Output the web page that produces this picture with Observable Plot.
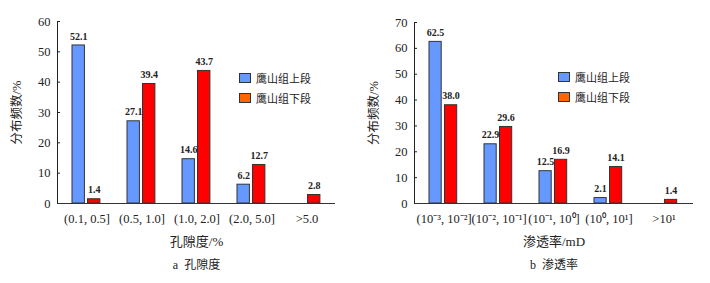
<!DOCTYPE html>
<html><head><meta charset="utf-8">
<script src="https://cdn.jsdelivr.net/npm/d3@7"></script>
<script src="https://cdn.jsdelivr.net/npm/@observablehq/plot@0.6"></script>
<style>
body{margin:0;background:#fff;}
#wrap{position:relative;width:710px;height:283px;display:flex;}
.leg{position:absolute;font:11px "Noto Sans CJK SC",sans-serif;color:#222;display:flex;align-items:center;}
.sw{width:10px;height:8px;border:1px solid #333;margin-right:5px;}
</style>
</head><body>
<div id="wrap"></div>
<script>
const series = ["鹰山组上段", "鹰山组下段"];
const seriesColors = ["#6699FF", "#FF0000"];
const legendColors = ["#6699FF", "#FF6600"];

const porosityCats = ["(0.1, 0.5]", "(0.5, 1.0]", "(1.0, 2.0]", "(2.0, 5.0]", ">5.0"];
const porosityUpper = [52.1, 27.1, 14.6, 6.2, null];
const porosityLower = [1.4, 39.4, 43.7, 12.7, 2.8];
const porosityTicks = [0, 10, 20, 30, 40, 50, 60];

const permCats = ["(10⁻³, 10⁻²]", "(10⁻², 10⁻¹]", "(10⁻¹, 10⁰]", "(10⁰, 10¹]", ">10¹"];
const permUpper = [62.5, 22.9, 12.5, 2.1, null];
const permLower = [38.0, 29.6, 16.9, 14.1, 1.4];
const permTicks = [0, 10, 20, 30, 40, 50, 60, 70];

const yTitle = "分布频数/%";

function makeChart(cats, upper, lower, ticks, xTitle, caption, mL, mR, mT) {
  const W = 355, H = 283, mB = 80;
  const bw = (W - mL - mR) / cats.length;
  const rowsU = cats.map((c, i) => ({cat: c, v: upper[i]})).filter(d => d.v != null);
  const rowsL = cats.map((c, i) => ({cat: c, v: lower[i]})).filter(d => d.v != null);
  const bL = 13, bR = 26, rL = 28.5, rR = 41.5;
  return Plot.plot({
    width: W, height: H,
    marginLeft: mL, marginRight: mR, marginTop: mT, marginBottom: mB,
    style: {fontFamily: "'Liberation Serif', 'Noto Sans CJK SC', serif", fontSize: "12.5px", color: "#222", background: "#fff"},
    x: {domain: cats, padding: 0, label: null, tickSize: 0, tickPadding: 11},
    y: {domain: [ticks[0], ticks[ticks.length - 1]], ticks: ticks, tickSize: -3, tickPadding: 10, line: true, label: null},
    marks: [
      Plot.barY(rowsU, {x: "cat", y: "v", fill: seriesColors[0], stroke: "#333", strokeWidth: 1, insetLeft: bL, insetRight: bw - bR}),
      Plot.barY(rowsL, {x: "cat", y: "v", fill: seriesColors[1], stroke: "#333", strokeWidth: 1, insetLeft: rL, insetRight: bw - rR}),
      Plot.text(rowsU, {x: "cat", y: "v", text: d => d.v.toFixed(1), dx: (bL + bR) / 2 - bw / 2, dy: -9, fontSize: 10, fontWeight: "bold"}),
      Plot.text(rowsL, {x: "cat", y: "v", text: d => d.v.toFixed(1), dx: (rL + rR) / 2 - bw / 2, dy: -9, fontSize: 10, fontWeight: "bold"}),
      Plot.ruleY([0], {stroke: "#333"}),
      Plot.text([yTitle], {frameAnchor: "left", textAnchor: "middle", rotate: -90, dx: -41, fontSize: 12.5}),
      Plot.text([xTitle], {frameAnchor: "bottom", dy: 42, fontSize: 13}),
      Plot.text([caption], {frameAnchor: "bottom", dy: 65, fontSize: 12})
    ]
  });
}

const wrap = document.getElementById("wrap");
wrap.appendChild(makeChart(porosityCats, porosityUpper, porosityLower, porosityTicks, "孔隙度/%", "a  孔隙度", 57, 20, 21));
wrap.appendChild(makeChart(permCats, permUpper, permLower, permTicks, "渗透率/mD", "b  渗透率", 59, 17, 22));

function legend(x, y) {
  series.forEach((s, i) => {
    const d = document.createElement("div");
    d.className = "leg";
    d.style.left = x + "px";
    d.style.top = (y + i * 20) + "px";
    d.innerHTML = `<span class="sw" style="background:${legendColors[i]}"></span>${s}`;
    wrap.appendChild(d);
  });
}
legend(239, 70);
legend(558, 69);
</script>
</body></html>
